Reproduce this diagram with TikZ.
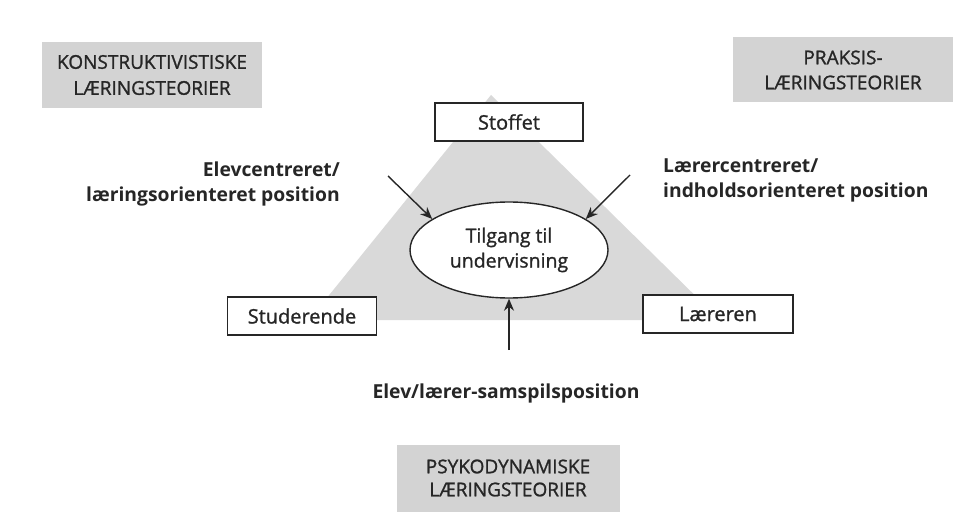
\documentclass[tikz,border=0pt]{standalone}
\usepackage{fontspec}
\setmainfont{Open Sans}
\newfontfamily\medfont[FakeBold=1.2]{Open Sans}
\usetikzlibrary{shapes.geometric,arrows.meta}
\definecolor{boxgray}{HTML}{D3D3D3}
\definecolor{trigray}{HTML}{D9D9D9}
\definecolor{ink}{HTML}{262626}
\tikzset{
  theory/.style={fill=boxgray, draw=none, text=ink, align=center, inner sep=0pt,
    font=\medfont\fontsize{19}{26}\selectfont},
  corner/.style={draw=ink, line width=1.4pt, fill=white, text=ink, inner sep=0pt,
    font=\medfont\fontsize{20}{22}\selectfont},
  poslabel/.style={text=ink, inner sep=0pt, font=\bfseries\fontsize{19.3}{25}\selectfont},
  arr/.style={draw=ink, line width=1.4pt, -{Stealth[length=12pt,width=10pt]}},
}
\begin{document}
\begin{tikzpicture}[x=1pt,y=-1pt]
\useasboundingbox (0,0) rectangle (974,529);
% triangle
\fill[trigray] (491,95) -- (309,320) -- (720,320) -- cycle;
% theory boxes
\node[theory, minimum width=220pt, minimum height=66pt] (konst) at (152,75)
  {KONSTRUKTIVISTISKE\\LÆRINGSTEORIER};
\node[theory, minimum width=220pt, minimum height=65pt, font=\medfont\fontsize{19}{25}\selectfont] (praks) at (843,70)
  {PRAKSIS-\\LÆRINGSTEORIER};
\node[theory, minimum width=223pt, minimum height=67pt, font=\medfont\fontsize{19}{23}\selectfont] (psyko) at (508,478)
  {PSYKODYNAMISKE\\LÆRINGSTEORIER};
% corner boxes
\node[corner, minimum width=148pt, minimum height=38pt] (stoffet) at (509,122) {Stoffet};
\node[corner, minimum width=149pt, minimum height=38pt] (stud) at (302,316) {Studerende};
\node[corner, minimum width=150pt, minimum height=38pt] (laer) at (718,314) {Læreren};
% central ellipse
\node[ellipse, draw=ink, line width=1.4pt, fill=white, text=ink, inner sep=0pt,
  minimum width=198pt, minimum height=96pt, align=center,
  font=\medfont\fontsize{19.5}{25}\selectfont] (tilgang) at (509,250) {Tilgang til\\undervisning};
% position labels
\node[poslabel, anchor=east, align=right] (elev) at (340,184)
  {Elevcentreret/\\læringsorienteret position};
\node[poslabel, anchor=west, align=left] (laerer) at (663,180)
  {Lærercentreret/\\indholdsorienteret position};
\node[poslabel] (samspil) at (506,393) {Elev/lærer-samspilsposition};
% arrows
\coordinate (t1) at (388,176);
\coordinate (t2) at (630,175);
\coordinate (t3) at (509,350);
\draw[arr] (t1) -- (tilgang.158);
\draw[arr] (t2) -- (tilgang.22);
\draw[arr] (t3) -- (tilgang.south);
\end{tikzpicture}
\end{document}
